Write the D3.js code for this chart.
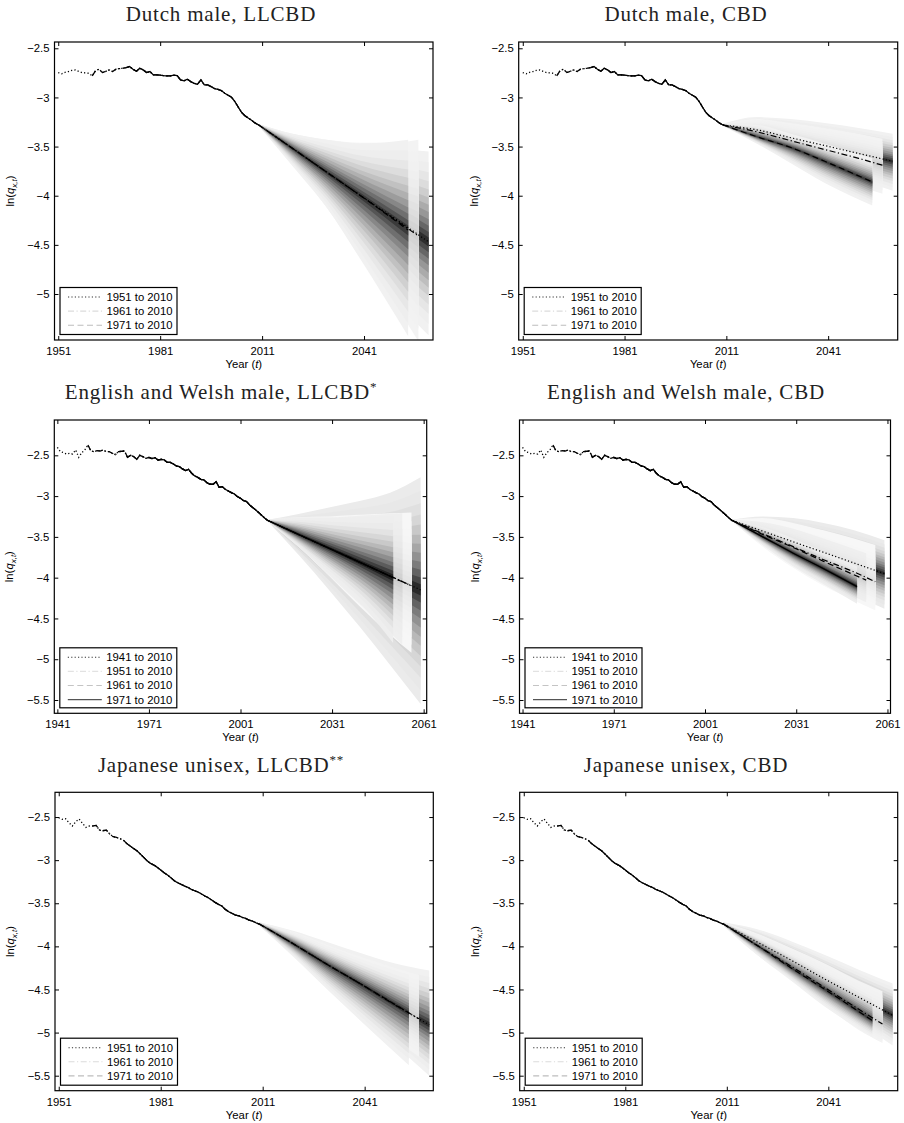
<!DOCTYPE html>
<html>
<head>
<meta charset="utf-8">
<script src="https://cdn.jsdelivr.net/npm/d3@7"></script>
<style>
body { margin: 0; background: #fff; }
</style>
</head>
<body>
<svg id="fig" width="904" height="1123" font-family="Liberation Sans, Arial, sans-serif"></svg>
<script>

// observed ln(q) series, one value per year from the start year
var nlStart = 1951;
var nlHist = [
    -2.747, -2.76, -2.745, -2.737, -2.725, -2.72, -2.735, -2.747, -2.75, -2.754,
    -2.78, -2.727, -2.713, -2.747, -2.734, -2.72, -2.737, -2.713, -2.707, -2.703,
    -2.696, -2.686, -2.713, -2.734, -2.703, -2.72, -2.747, -2.737, -2.771, -2.771,
    -2.774, -2.778, -2.781, -2.781, -2.774, -2.778, -2.822, -2.832, -2.815, -2.839,
    -2.856, -2.866, -2.822, -2.873, -2.873, -2.89, -2.91, -2.917, -2.93, -2.957,
    -2.978, -2.998, -3.042, -3.1, -3.154, -3.188, -3.211, -3.235, -3.262, -3.28
];
var ewStart = 1941;
var ewHist = [
    -2.402, -2.455, -2.467, -2.484, -2.475, -2.484, -2.435, -2.525, -2.467, -2.435,
    -2.373, -2.447, -2.455, -2.443, -2.447, -2.435, -2.455, -2.455, -2.475, -2.492,
    -2.455, -2.451, -2.447, -2.525, -2.5, -2.516, -2.549, -2.5, -2.516, -2.537,
    -2.525, -2.541, -2.529, -2.557, -2.549, -2.557, -2.586, -2.586, -2.606, -2.631,
    -2.639, -2.667, -2.688, -2.672, -2.721, -2.753, -2.77, -2.794, -2.802, -2.835,
    -2.855, -2.855, -2.823, -2.892, -2.884, -2.917, -2.937, -2.958, -2.974, -3.007,
    -3.027, -3.056, -3.068, -3.109, -3.141, -3.17, -3.203, -3.239, -3.272, -3.301
];
var jpStart = 1951;
var jpHist = [
    -2.508, -2.527, -2.519, -2.566, -2.604, -2.554, -2.523, -2.573, -2.62, -2.604,
    -2.604, -2.597, -2.651, -2.659, -2.651, -2.697, -2.728, -2.736, -2.751, -2.767,
    -2.806, -2.836, -2.864, -2.891, -2.929, -2.968, -3.007, -3.038, -3.057, -3.084,
    -3.115, -3.146, -3.173, -3.204, -3.239, -3.262, -3.281, -3.3, -3.316, -3.339,
    -3.355, -3.37, -3.393, -3.416, -3.436, -3.463, -3.49, -3.513, -3.532, -3.571,
    -3.598, -3.618, -3.637, -3.645, -3.664, -3.676, -3.695, -3.707, -3.726, -3.741
];

// fitting periods (start years)
var periods3 = [1951, 1961, 1971];
var periods4 = [1941, 1951, 1961, 1971];

// forecast fans: rows of [year, outer lower, median, outer upper]
var nlLl1951 = [[2010,-3.29,-3.28,-3.27],[2020,-3.66,-3.52,-3.38],[2030,-4.1,-3.76,-3.44],[2040,-4.6,-4.0,-3.49],[2050,-5.05,-4.23,-3.52],[2060,-5.42,-4.47,-3.55]];
var nlLl1961 = [[2010,-3.29,-3.28,-3.27],[2020,-3.68,-3.52,-3.37],[2030,-4.12,-3.76,-3.43],[2040,-4.62,-4.0,-3.46],[2050,-5.1,-4.24,-3.46],[2057,-5.48,-4.41,-3.43]];
var nlLl1971 = [[2010,-3.29,-3.28,-3.27],[2020,-3.7,-3.52,-3.37],[2030,-4.12,-3.76,-3.43],[2040,-4.65,-4.0,-3.47],[2054,-5.43,-4.35,-3.43]];

var nlCbd1951 = [[2010,-3.29,-3.28,-3.27],[2020,-3.42,-3.33,-3.2],[2030,-3.56,-3.41,-3.22],[2040,-3.7,-3.49,-3.26],[2050,-3.83,-3.57,-3.31],[2060,-3.95,-3.65,-3.37]];
var nlCbd1961 = [[2010,-3.29,-3.28,-3.27],[2020,-3.44,-3.35,-3.22],[2030,-3.6,-3.44,-3.26],[2040,-3.76,-3.53,-3.31],[2050,-3.9,-3.62,-3.37],[2057,-3.98,-3.69,-3.42]];
var nlCbd1971 = [[2010,-3.29,-3.28,-3.27],[2020,-3.47,-3.4,-3.28],[2030,-3.67,-3.51,-3.37],[2040,-3.87,-3.65,-3.47],[2054,-4.1,-3.86,-3.62]];

var ewLl1941 = [[2010,-3.31,-3.3,-3.29],[2020,-3.72,-3.47,-3.22],[2030,-4.15,-3.64,-3.14],[2040,-4.6,-3.81,-3.06],[2050,-5.07,-3.98,-2.96],[2060,-5.55,-4.15,-2.77]];
var ewLl1951 = [[2010,-3.31,-3.3,-3.29],[2020,-3.62,-3.47,-3.26],[2030,-3.98,-3.64,-3.25],[2040,-4.35,-3.81,-3.23],[2050,-4.7,-3.98,-3.21],[2057,-4.92,-4.1,-3.2]];
var ewLl1961 = [[2010,-3.31,-3.3,-3.29],[2020,-3.62,-3.47,-3.26],[2030,-3.97,-3.64,-3.26],[2040,-4.32,-3.81,-3.24],[2054,-4.82,-4.05,-3.21]];
var ewLl1971 = [[2010,-3.31,-3.3,-3.29],[2020,-3.62,-3.47,-3.27],[2030,-3.95,-3.64,-3.27],[2040,-4.3,-3.81,-3.26],[2051,-4.8,-4.0,-3.24]];

var ewCbd1941 = [[2010,-3.31,-3.3,-3.29],[2020,-3.6,-3.43,-3.25],[2030,-3.85,-3.56,-3.27],[2040,-4.05,-3.69,-3.33],[2050,-4.22,-3.82,-3.42],[2060,-4.38,-3.95,-3.54]];
var ewCbd1951 = [[2010,-3.31,-3.3,-3.29],[2020,-3.62,-3.46,-3.27],[2030,-3.88,-3.62,-3.33],[2040,-4.1,-3.78,-3.42],[2050,-4.28,-3.93,-3.52],[2057,-4.4,-4.05,-3.6]];
var ewCbd1961 = [[2010,-3.31,-3.3,-3.29],[2020,-3.6,-3.47,-3.32],[2030,-3.85,-3.63,-3.4],[2040,-4.05,-3.8,-3.52],[2054,-4.3,-4.03,-3.7]];
var ewCbd1971 = [[2010,-3.31,-3.3,-3.29],[2020,-3.6,-3.5,-3.38],[2030,-3.86,-3.7,-3.52],[2040,-4.08,-3.89,-3.68],[2051,-4.32,-4.11,-3.86]];

var jpLl1951 = [[2010,-3.76,-3.74,-3.72],[2020,-4.1,-3.97,-3.82],[2030,-4.45,-4.21,-3.95],[2040,-4.8,-4.44,-4.08],[2050,-5.15,-4.68,-4.2],[2060,-5.5,-4.91,-4.28]];
var jpLl1961 = [[2010,-3.76,-3.74,-3.72],[2020,-4.1,-3.97,-3.83],[2030,-4.45,-4.21,-3.98],[2040,-4.78,-4.44,-4.12],[2050,-5.08,-4.68,-4.25],[2057,-5.28,-4.84,-4.33]];
var jpLl1971 = [[2010,-3.76,-3.74,-3.72],[2020,-4.12,-3.97,-3.84],[2030,-4.5,-4.21,-4.0],[2040,-4.87,-4.44,-4.15],[2054,-5.38,-4.77,-4.33]];

var jpCbd1951 = [[2010,-3.76,-3.74,-3.72],[2020,-4.05,-3.95,-3.8],[2030,-4.33,-4.16,-3.94],[2040,-4.6,-4.38,-4.1],[2050,-4.88,-4.59,-4.27],[2060,-5.15,-4.8,-4.43]];
var jpCbd1961 = [[2010,-3.76,-3.74,-3.72],[2020,-4.1,-3.99,-3.85],[2030,-4.38,-4.23,-4.02],[2040,-4.68,-4.48,-4.2],[2050,-4.97,-4.73,-4.4],[2057,-5.12,-4.9,-4.52]];
var jpCbd1971 = [[2010,-3.76,-3.74,-3.72],[2020,-4.1,-3.99,-3.88],[2030,-4.4,-4.25,-4.07],[2040,-4.7,-4.5,-4.27],[2054,-5.05,-4.86,-4.55]];

// share of the outer spread covered by each shaded band, outermost first
var bandLevels = [1, 0.88, 0.77, 0.67, 0.58, 0.49, 0.41, 0.33, 0.25, 0.18, 0.11, 0.05];

// tick labels
var yearTicksA = [1951, 1981, 2011, 2041];
var yearTicksB = [1941, 1971, 2001, 2031, 2061];
var lnTicksA = [-2.5, -3, -3.5, -4, -4.5, -5];
var lnTicksB = [-2.5, -3, -3.5, -4, -4.5, -5, -5.5];

// line style per fitting period, and fan shading [outer, inner]
var dash3 = ["1.2,2.2", "6,2.5,1.2,2.5", "6,3.5"];
var dash4 = ["1.2,2.2", "6,2.5,1.2,2.5", "6,3.5", null];
var legendInk3 = ["#333", "#dcdcdc", "#bdbdbd"];
var legendInk4 = ["#333", "#e2e2e2", "#c4c4c4", "#555"];
var fanInk3 = [["#f1f1f1", "#2e2e2e"], ["#f3f3f3", "#cfcfcf"], ["#f1f1f1", "#3a3a3a"]];
var fanInk4 = [["#ebebeb", "#2a2a2a"], ["#f7f7f7", "#e2e2e2"], ["#efefef", "#cdcdcd"], ["#eeeeee", "#202020"]];

var panels = [
    { title: "Dutch male, LLCBD", sup: "", tx: 221, ty: 21,
      left: 54.5, right: 433, top: 42, bottom: 340, xdom: [1949.9, 2061.3], ydom: [-5.468, -2.436],
      xticks: yearTicksA, yticks: lnTicksA, start: nlStart, hist: nlHist, periods: periods3,
      fans: [nlLl1951, nlLl1961, nlLl1971], dash: dash3, ink: fanInk3, legendInk: legendInk3 },
    { title: "Dutch male, CBD", sup: "", tx: 686, ty: 21,
      left: 518.7, right: 897.7, top: 42, bottom: 340, xdom: [1949.8, 2061.5], ydom: [-5.468, -2.436],
      xticks: yearTicksA, yticks: lnTicksA, start: nlStart, hist: nlHist, periods: periods3,
      fans: [nlCbd1951, nlCbd1961, nlCbd1971], dash: dash3, ink: fanInk3, legendInk: legendInk3 },
    { title: "English and Welsh male, LLCBD", sup: "*", tx: 221, ty: 399,
      left: 54.3, right: 426.7, top: 420, bottom: 713.3, xdom: [1940, 2062], ydom: [-5.663, -2.067],
      xticks: yearTicksB, yticks: lnTicksB, start: ewStart, hist: ewHist, periods: periods4,
      fans: [ewLl1941, ewLl1951, ewLl1961, ewLl1971], dash: dash4, ink: fanInk4, legendInk: legendInk4 },
    { title: "English and Welsh male, CBD", sup: "", tx: 686, ty: 399,
      left: 519.5, right: 890.5, top: 420, bottom: 713.3, xdom: [1940, 2062], ydom: [-5.663, -2.067],
      xticks: yearTicksB, yticks: lnTicksB, start: ewStart, hist: ewHist, periods: periods4,
      fans: [ewCbd1941, ewCbd1951, ewCbd1961, ewCbd1971], dash: dash4, ink: fanInk4, legendInk: legendInk4 },
    { title: "Japanese unisex, LLCBD", sup: "**", tx: 221, ty: 772,
      left: 55, right: 433.3, top: 792.3, bottom: 1090.7, xdom: [1949.9, 2061.2], ydom: [-5.674, -2.213],
      xticks: yearTicksA, yticks: lnTicksB, start: jpStart, hist: jpHist, periods: periods3,
      fans: [jpLl1951, jpLl1961, jpLl1971], dash: dash3, ink: fanInk3, legendInk: legendInk3 },
    { title: "Japanese unisex, CBD", sup: "", tx: 686, ty: 772,
      left: 519.7, right: 897.7, top: 792.3, bottom: 1090.7, xdom: [1949.8, 2061.5], ydom: [-5.674, -2.213],
      xticks: yearTicksA, yticks: lnTicksB, start: jpStart, hist: jpHist, periods: periods3,
      fans: [jpCbd1951, jpCbd1961, jpCbd1971], dash: dash3, ink: fanInk3, legendInk: legendInk3 }
];

var svg = d3.select("#fig");
svg.append("rect").attr("width", 904).attr("height", 1123).attr("fill", "#fff");

function lnLabel(v){ return String(v).replace("-", "\u2212"); }

function drawPanel(p, idx){

    var x = d3.scaleLinear().domain(p.xdom).range([p.left, p.right]);
    var y = d3.scaleLinear().domain(p.ydom).range([p.bottom, p.top]);
    var g = svg.append("g");

    var clipId = "clip" + idx;
    g.append("clipPath").attr("id", clipId)
        .append("rect")
        .attr("x", p.left).attr("y", p.top)
        .attr("width", p.right - p.left).attr("height", p.bottom - p.top);

    var plot = g.append("g").attr("clip-path", "url(#" + clipId + ")");

    // fans, longest horizon drawn first; shading darkens mostly near the median
    p.fans.forEach(function(fan, i){
        var col = d3.interpolateRgb(p.ink[i][0], p.ink[i][1]);
        bandLevels.forEach(function(L, k){
            var area = d3.area().curve(d3.curveMonotoneX)
                .x(function(r){ return x(r[0]) })
                .y0(function(r){ return y(r[2] - L * (r[2] - r[1])) })
                .y1(function(r){ return y(r[2] + L * (r[3] - r[2])) });
            plot.append("path").datum(fan)
                .attr("d", area)
                .attr("fill", col(Math.pow(k / (bandLevels.length - 1), 1.7)));
        });
    });

    // observed series, once per fitting period; the latest period is drawn solid
    var pts = p.hist.map(function(v, i){ return [p.start + i, v] });
    var line = d3.line().x(function(d){ return x(d[0]) }).y(function(d){ return y(d[1]) });
    var last = p.periods.length - 1;

    p.periods.forEach(function(s, i){
        plot.append("path")
            .datum(pts.filter(function(d){ return d[0] >= s }))
            .attr("d", line)
            .attr("fill", "none")
            .attr("stroke", "#000")
            .attr("stroke-width", 1.3)
            .attr("stroke-dasharray", i === last ? null : p.dash[i]);
    });

    // forecast medians
    var medLine = d3.line().curve(d3.curveMonotoneX)
        .x(function(r){ return x(r[0]) }).y(function(r){ return y(r[2]) });
    p.fans.forEach(function(fan, i){
        plot.append("path").datum(fan)
            .attr("d", medLine)
            .attr("fill", "none")
            .attr("stroke", "#000")
            .attr("stroke-width", 1.2)
            .attr("stroke-dasharray", p.dash[i]);
    });

    // axes, ticks inside on all four sides
    g.append("g").attr("transform", "translate(0," + p.bottom + ")")
        .call(d3.axisBottom(x).tickValues(p.xticks).tickSize(-4).tickPadding(7).tickFormat(d3.format("d")));
    g.append("g").attr("transform", "translate(0," + p.top + ")")
        .call(d3.axisTop(x).tickValues(p.xticks).tickSize(-4).tickFormat(""));
    g.append("g").attr("transform", "translate(" + p.left + ",0)")
        .call(d3.axisLeft(y).tickValues(p.yticks).tickSize(-4).tickPadding(5).tickFormat(lnLabel));
    g.append("g").attr("transform", "translate(" + p.right + ",0)")
        .call(d3.axisRight(y).tickValues(p.yticks).tickSize(-4).tickFormat(""));

    g.selectAll(".domain").remove();
    g.selectAll(".tick line").attr("stroke", "#000").attr("stroke-width", 1);
    g.selectAll(".tick text").attr("fill", "#000").attr("font-size", 11.3)
        .attr("font-family", "Liberation Sans, Arial, sans-serif");

    g.append("rect")
        .attr("x", p.left).attr("y", p.top)
        .attr("width", p.right - p.left).attr("height", p.bottom - p.top)
        .attr("fill", "none").attr("stroke", "#000").attr("stroke-width", 1.2);

    // axis titles
    var xl = g.append("text")
        .attr("x", (p.left + p.right) / 2).attr("y", p.bottom + 28)
        .attr("text-anchor", "middle").attr("font-size", 11.3);
    xl.append("tspan").text("Year (");
    xl.append("tspan").attr("font-style", "italic").text("t");
    xl.append("tspan").text(")");

    var yl = g.append("text")
        .attr("transform", "translate(" + (p.left - 41) + "," + ((p.top + p.bottom) / 2) + ") rotate(-90)")
        .attr("text-anchor", "middle").attr("font-size", 11.3);
    yl.append("tspan").text("ln(");
    yl.append("tspan").attr("font-style", "italic").text("q");
    yl.append("tspan").attr("font-style", "italic").attr("font-size", 8).attr("dy", 3).text("x,t");
    yl.append("tspan").attr("dy", -3).text(")");

    // panel title
    var tt = g.append("text")
        .attr("x", p.tx).attr("y", p.ty)
        .attr("text-anchor", "middle")
        .attr("font-family", "Liberation Serif, Times New Roman, serif")
        .attr("font-size", 21).attr("letter-spacing", 0.8)
        .attr("fill", "#222");
    tt.append("tspan").text(p.title);
    if (p.sup) tt.append("tspan").attr("dy", -8).attr("font-size", 13).text(p.sup);

    // legend
    var n = p.periods.length;
    var lw = 117, lh = n === 3 ? 47 : 60;
    var lx = p.left + 5.5, ly = p.bottom - 5.5 - lh;
    var lg = g.append("g").attr("transform", "translate(" + lx + "," + ly + ")");
    lg.append("rect").attr("width", lw).attr("height", lh)
        .attr("fill", "#fff").attr("stroke", "#000").attr("stroke-width", 1.2);
    p.periods.forEach(function(s, i){
        var yy = 9.5 + i * 14.1;
        lg.append("line")
            .attr("x1", 8).attr("x2", 42).attr("y1", yy).attr("y2", yy)
            .attr("stroke", p.legendInk[i]).attr("stroke-width", 1.1)
            .attr("stroke-dasharray", p.dash[i]);
        lg.append("text")
            .attr("x", 46.5).attr("y", yy).attr("dy", "0.35em")
            .attr("font-size", 11.3).attr("fill", "#000")
            .text(s + " to 2010");
    });
}

panels.forEach(drawPanel);

</script>
</body>
</html>
